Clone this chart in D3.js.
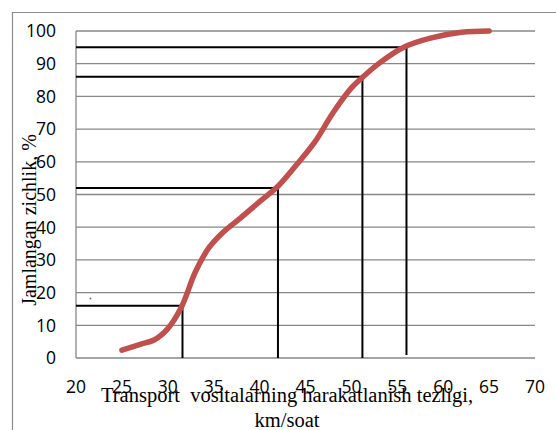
<!DOCTYPE html>
<html><head><meta charset="utf-8">
<script src="https://cdn.jsdelivr.net/npm/d3@7"></script>
<style>body{margin:0;background:#fff}svg{display:block}</style>
</head><body>
<script>
// Data
const speeds     = [25, 27, 28.5, 30, 31.5, 33, 34.5, 36, 38, 40, 42, 44, 46, 48, 50, 51.2, 53, 55.6, 58.6, 62, 65];
const cumulative = [2.4, 4.2, 5.5, 9, 15.7, 26.3, 33.8, 38.4, 43, 47.8, 52.5, 59, 66, 75, 82.6, 85.8, 90.1, 94.9, 97.8, 99.6, 100];
const refSpeeds = [31.6, 42, 51.2, 56];
const refPercents = [16, 52, 86, 95];
const xTicks = [20, 25, 30, 35, 40, 45, 50, 55, 60, 65, 70];
const yTicks = [0, 10, 20, 30, 40, 50, 60, 70, 80, 90, 100];
const yTitle = "Jamlangan zichlik, %";
const xTitle1 = "Transport  vositalarning harakatlanish tezligi,";
const xTitle2 = "km/soat";

const W = 556, H = 430;
const svg = d3.select("body").append("svg").attr("width", W).attr("height", H);

const x = d3.scaleLinear().domain([20, 70]).range([76, 535]);
const y = d3.scaleLinear().domain([0, 100]).range([358, 31]);

// outer border
svg.append("path").attr("d", `M12.5,${H} V12.5 H${W}`).attr("fill","none").attr("stroke","#8c8c8c").attr("stroke-width",1.2);

// gridlines
svg.append("g").selectAll("line").data(yTicks).join("line")
  .attr("x1", x(20)).attr("x2", x(70))
  .attr("y1", d => y(d)).attr("y2", d => y(d))
  .attr("stroke", "#878787").attr("stroke-width", 1.3);
// left axis line
svg.append("line").attr("x1", x(20)).attr("x2", x(20)).attr("y1", y(100)).attr("y2", y(0))
  .attr("stroke", "#878787").attr("stroke-width", 1.3);

// y tick labels
svg.append("g").selectAll("text").data(yTicks).join("text")
  .attr("x", 56).attr("y", d => y(d)).attr("dy", "0.36em")
  .attr("text-anchor", "end")
  .style("font-family", "'Open Sans', sans-serif").style("font-size", "17.5px").attr("fill", "#000")
  .text(d => d);

// x tick labels
svg.append("g").selectAll("text").data(xTicks).join("text")
  .attr("x", d => x(d)).attr("y", 393)
  .attr("text-anchor", "middle")
  .style("font-family", "'Open Sans', sans-serif").style("font-size", "17.5px").attr("fill", "#000")
  .text(d => d);

// reference lines
const refs = refSpeeds.map((s, i) => ({s, p: refPercents[i]}));
const rg = svg.append("g").attr("stroke", "#000").attr("stroke-width", 2);
rg.selectAll("line.h").data(refs).join("line").attr("class","h")
  .attr("x1", x(20)).attr("x2", d => x(d.s) + 1)
  .attr("y1", d => y(d.p)).attr("y2", d => y(d.p));
rg.selectAll("line.v").data(refs).join("line").attr("class","v")
  .attr("x1", d => x(d.s)).attr("x2", d => x(d.s))
  .attr("y1", d => y(d.p)).attr("y2", (d,i) => i === 3 ? y(0) - 3 : y(0));

// curve
const pts = speeds.map((s, i) => [s, cumulative[i]]);
svg.append("path").datum(pts)
  .attr("fill", "none").attr("stroke", "#c0504d").attr("stroke-width", 5.5)
  .attr("stroke-linecap", "round").attr("stroke-linejoin", "round")
  .attr("d", d3.line().x(d => x(d[0])).y(d => y(d[1])).curve(d3.curveCatmullRom.alpha(0.5)));

// small blue artifact dot
svg.append("circle").attr("cx", 90.5).attr("cy", 298.5).attr("r", 1).attr("fill", "#4a7ebb");

// axis titles
svg.append("text")
  .attr("transform", `translate(36,220) rotate(-90)`)
  .attr("text-anchor", "middle")
  .style("font-family", "'Liberation Serif', 'Times New Roman', serif").style("font-size", "20px")
  .text(yTitle);

const xt = svg.append("text").attr("text-anchor", "middle")
  .style("font-family", "'Liberation Serif', 'Times New Roman', serif").style("font-size", "20.5px")
  .style("white-space", "pre");
xt.append("tspan").attr("x", 287).attr("y", 402).text(xTitle1);
xt.append("tspan").attr("x", 287).attr("y", 427).text(xTitle2);
</script>
</body></html>
